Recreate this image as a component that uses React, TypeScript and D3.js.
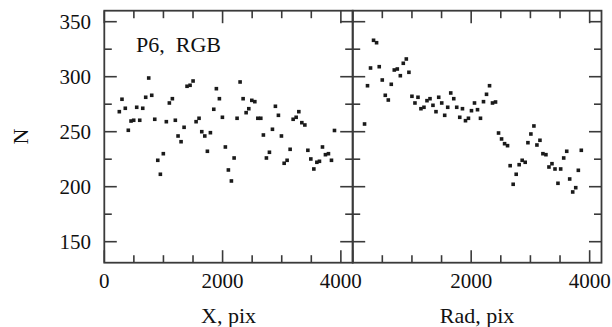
import React from "react";
import * as d3 from "d3";

// Left panel: N vs X (pix)
const leftX = [254, 299, 355, 406, 452, 497, 548, 599, 650, 700, 751, 802, 853, 904, 948, 998, 1049, 1100, 1151, 1201, 1247, 1298, 1349, 1399, 1450, 1501, 1552, 1602, 1648, 1699, 1743, 1794, 1851, 1895, 1946, 1997, 2047, 2098, 2149, 2195, 2245, 2296, 2347, 2398, 2443, 2494, 2545, 2596, 2646, 2690, 2741, 2792, 2843, 2893, 2944, 2995, 3041, 3091, 3142, 3193, 3244, 3289, 3340, 3391, 3442, 3492, 3543, 3594, 3638, 3689, 3739, 3790, 3841, 3892];
const leftN = [268.2, 279.5, 271.3, 251.3, 259.7, 260.4, 272.2, 260.4, 271.3, 281.3, 298.8, 283.1, 261.3, 224.0, 211.3, 230.0, 259.1, 276.1, 280.0, 260.4, 246.1, 240.9, 254.0, 291.3, 292.2, 296.1, 259.1, 262.2, 250.0, 246.1, 232.2, 249.1, 270.4, 289.1, 280.0, 263.1, 236.1, 215.2, 205.2, 226.1, 262.2, 295.2, 280.0, 267.3, 270.9, 278.5, 277.3, 262.2, 262.2, 247.0, 226.1, 231.3, 252.2, 273.1, 264.9, 246.1, 221.3, 224.0, 234.0, 261.3, 263.1, 268.2, 258.2, 256.1, 233.1, 225.2, 216.1, 222.2, 223.1, 236.1, 229.1, 230.0, 224.0, 251.1];

// Right panel: N vs Rad (pix)
const rightRad = [200, 250, 301, 352, 403, 448, 499, 550, 601, 651, 702, 753, 804, 854, 905, 949, 1000, 1051, 1102, 1152, 1203, 1254, 1305, 1355, 1406, 1452, 1503, 1553, 1604, 1655, 1706, 1756, 1807, 1853, 1904, 1954, 2005, 2056, 2107, 2157, 2208, 2259, 2310, 2360, 2411, 2462, 2513, 2564, 2614, 2658, 2709, 2760, 2810, 2861, 2912, 2958, 3008, 3059, 3110, 3161, 3211, 3262, 3313, 3364, 3415, 3465, 3511, 3562, 3613, 3663, 3714, 3765, 3809, 3859];
const rightN = [257.0, 291.8, 307.9, 333.1, 330.9, 309.1, 297.0, 283.1, 278.8, 293.1, 306.1, 307.0, 300.9, 312.2, 316.1, 304.0, 282.2, 276.1, 281.3, 270.9, 272.2, 278.2, 280.0, 274.0, 268.2, 281.3, 276.1, 264.9, 272.2, 285.2, 280.0, 272.2, 263.1, 270.9, 260.0, 262.2, 269.1, 276.1, 270.0, 262.2, 277.3, 284.0, 291.8, 276.1, 277.0, 248.8, 243.4, 239.1, 237.3, 219.1, 202.2, 211.3, 220.0, 224.0, 222.2, 240.0, 247.9, 255.2, 237.9, 242.2, 230.0, 229.1, 217.9, 220.9, 216.1, 203.1, 216.1, 226.1, 232.2, 207.0, 195.2, 199.1, 214.9, 233.1];

const yTickLabels = [150, 200, 250, 300, 350];
const yMinorTicks = [150, 175, 200, 225, 250, 275, 300, 325, 350];
const xTickLabelsLeft = [0, 2000, 4000];
const xTickLabelsRight = [2000, 4000];
const xMinorTicks = [500, 1000, 1500, 2000, 2500, 3000, 3500, 4000];

const W = 612;
const H = 327;
const TOP = 10.7;
const BOTTOM = 262.7;
const L0 = 104.3;
const MID = 352.7;
const R1 = 601.5;
const FONT = "Liberation Serif, Times New Roman, Times, serif";
const AX = "#3a3a3a";
const MAJ = 12.5;
const MIN = 7.5;
const textStyle = { fontFamily: FONT };

const y = d3.scaleLinear().domain([130.9, 360]).range([BOTTOM, TOP]);

function Panel({ x0, x1, xs, ns, tickLabels }: { x0: number; x1: number; xs: number[]; ns: number[]; tickLabels: number[] }) {
  const x = d3.scaleLinear().domain([0, 4200]).range([x0, x1]);
  const els: React.ReactNode[] = [];
  yMinorTicks.forEach((v, i) => {
    const len = v % 50 === 0 ? MAJ : MIN;
    els.push(<line key={"yl" + i} x1={x0} x2={x0 + len} y1={y(v)} y2={y(v)} stroke={AX} strokeWidth={1.6} />);
    els.push(<line key={"yr" + i} x1={x1} x2={x1 - len} y1={y(v)} y2={y(v)} stroke={AX} strokeWidth={1.6} />);
  });
  [0, ...xMinorTicks].forEach((v, i) => {
    const len = v % 2000 === 0 ? MAJ : MIN;
    els.push(<line key={"xb" + i} x1={x(v)} x2={x(v)} y1={BOTTOM} y2={BOTTOM - len} stroke={AX} strokeWidth={1.6} />);
    els.push(<line key={"xt" + i} x1={x(v)} x2={x(v)} y1={TOP} y2={TOP + len} stroke={AX} strokeWidth={1.6} />);
  });
  tickLabels.forEach((v, i) => {
    els.push(
      <text key={"xtl" + i} x={x(v)} y={288} textAnchor="middle" style={textStyle} fontSize={21} fill="#111">
        {v}
      </text>
    );
  });
  xs.forEach((v, i) => {
    els.push(<rect key={"p" + i} x={x(v) - 1.8} y={y(ns[i]) - 1.8} width={3.6} height={3.6} fill="#1a1a1a" />);
  });
  els.push(<rect key="frame" x={x0} y={TOP} width={x1 - x0} height={BOTTOM - TOP} fill="none" stroke={AX} strokeWidth={1.8} />);
  return <g>{els}</g>;
}

export default function App() {
  return (
    <svg width={W} height={H} style={{ display: "block", position: "absolute", left: 0, top: 0, background: "#fff" }}>
      <rect x={0} y={0} width={W} height={H} fill="#fff" />
      <Panel x0={L0} x1={MID} xs={leftX} ns={leftN} tickLabels={xTickLabelsLeft} />
      <Panel x0={MID} x1={R1} xs={rightRad} ns={rightN} tickLabels={xTickLabelsRight} />
      {yTickLabels.map((v) => (
        <text key={v} x={91} y={y(v)} dy="0.35em" textAnchor="end" style={textStyle} fontSize={21} fill="#111">
          {v}
        </text>
      ))}
      <text x={0} y={0} transform="translate(28,136.5) rotate(-90)" textAnchor="middle" style={textStyle} fontSize={22} fill="#111">
        N
      </text>
      <text x={136} y={51.7} style={{ ...textStyle, whiteSpace: "pre" }} fontSize={22} fill="#111">
        {"P6,  RGB"}
      </text>
      <text x={(L0 + MID) / 2} y={322.8} textAnchor="middle" style={textStyle} fontSize={22} fill="#111">
        X, pix
      </text>
      <text x={(MID + R1) / 2} y={322.8} textAnchor="middle" style={textStyle} fontSize={22} fill="#111">
        Rad, pix
      </text>
    </svg>
  );
}
